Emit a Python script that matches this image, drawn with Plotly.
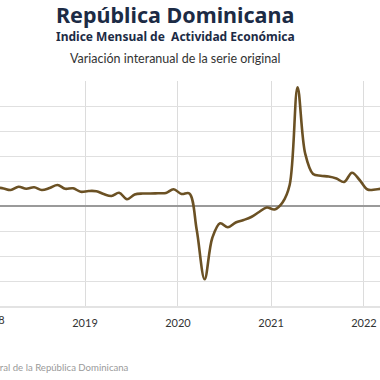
import plotly.graph_objects as go
import pandas as pd

# Monthly dates (mid-month), Jan 2018 .. Mar 2022
dates = [d.strftime("%Y-%m-15") for d in pd.date_range("2018-01-01", periods=51, freq="MS")]

# Variación interanual (%)
values = [
    7.5, 7.0, 6.4, 7.7, 6.9, 7.5, 6.4, 7.2, 8.4, 6.9, 7.1, 5.7,   # 2018
    6.0, 5.9, 4.8, 4.0, 5.3, 2.7, 4.6, 5.0, 5.0, 5.1, 5.2, 6.7,   # 2019
    4.8, 5.0, -9.6, -29.3, -12.8, -6.9, -8.5, -6.6, -5.6, -4.4, -2.4, -0.6,  # 2020
    -1.4, 1.4, 8.4, 47.5, 21.0, 12.8, 12.1, 11.8, 11.0, 9.6, 13.3, 10.4,    # 2021
    6.6, 6.6, 7.0,                                                   # 2022
]

title = "República Dominicana"
subtitle = "Indice Mensual de  Actividad Económica"
subtitle2 = "Variación interanual de la serie original"
source = "Fuente: Banco Central de la República Dominicana"

W, H = 380, 380
T, B = 81, 74
plot_h = H - T - B


def py(ypx):
    return (H - B - ypx) / plot_h


fig = go.Figure()
fig.add_trace(go.Scatter(
    x=dates, y=values, mode="lines",
    line=dict(color="#6b5124", width=2.6, shape="spline", smoothing=1.0),
    hoverinfo="skip", showlegend=False,
))

fig.update_layout(
    width=W, height=H,
    margin=dict(l=0, r=0, t=T, b=B, pad=0),
    paper_bgcolor="white", plot_bgcolor="white",
    font=dict(family="Lato, 'Noto Sans', sans-serif", color="#333333"),
    xaxis=dict(
        range=["2018-02-01", "2022-03-05"],
        type="date",
        tick0="2019-01-01", dtick="M12", tickformat="%Y",
        showgrid=True, gridcolor="#dcdcdc", gridwidth=1,
        showline=True, linecolor="#e3e3e3", linewidth=2, mirror=False,
        ticks="", tickfont=dict(size=11, color="#333333"),
        ticklabelstandoff=6,
        zeroline=False, fixedrange=True,
    ),
    yaxis=dict(
        range=[-40, 50], dtick=10, tick0=0,
        showgrid=True, gridcolor="#e0e0e0", gridwidth=1,
        showticklabels=False, ticks="",
        zeroline=True, zerolinecolor="#9a9a9a", zerolinewidth=2,
        fixedrange=True,
    ),
    annotations=[
        dict(text="<b>" + title + "</b>", xref="paper", yref="paper",
             x=175 / W, y=py(14), xanchor="center", yanchor="middle",
             showarrow=False, font=dict(size=21.5, color="#1c2b45",
                                        family="'Noto Sans', Lato, sans-serif")),
        dict(text="<b>" + subtitle + "</b>", xref="paper", yref="paper",
             x=175 / W, y=py(36), xanchor="center", yanchor="middle",
             showarrow=False, font=dict(size=12, color="#1c2b45",
                                        family="'Noto Sans', Lato, sans-serif")),
        dict(text=subtitle2, xref="paper", yref="paper",
             x=175 / W, y=py(58), xanchor="center", yanchor="middle",
             showarrow=False, font=dict(size=12.5, color="#333333")),
        dict(text="2018", xref="paper", yref="paper",
             x=-8 / W, y=py(319), xanchor="center", yanchor="middle",
             showarrow=False, font=dict(size=11, color="#333333")),
        dict(text=source, xref="paper", yref="paper",
             x=131 / W, y=py(367), xanchor="right", yanchor="middle",
             showarrow=False, font=dict(size=9.6, color="#9a9a9a")),
    ],
)

fig.write_html(
    "out.html",
    config={"displayModeBar": False, "staticPlot": True},
    post_script="document.body.style.margin='0';document.body.style.overflow='hidden';",
)
